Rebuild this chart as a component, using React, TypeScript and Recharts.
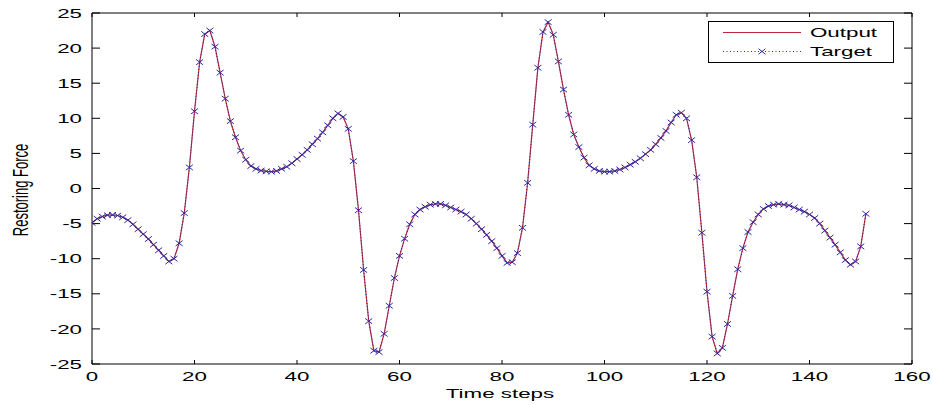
import React from 'react';
import { LineChart, Line, XAxis, YAxis, Legend } from 'recharts';

// Restoring force per time step (t = 0 .. 151)
const targetForce = [
  -4.9, -4.3, -4.0, -3.8, -3.75, -3.85, -4.1, -4.5, -5.1, -5.8,
  -6.5, -7.2, -8.0, -8.8, -9.6, -10.4, -10.0, -7.8, -3.5, 3.0,
  11.0, 18.0, 22.0, 22.5, 20.2, 16.5, 12.8, 9.6, 7.3, 5.4,
  4.1, 3.2, 2.8, 2.55, 2.45, 2.4, 2.5, 2.8, 3.1, 3.6,
  4.2, 4.8, 5.5, 6.3, 7.1, 8.0, 9.0, 10.0, 10.7, 10.2,
  8.5, 3.9, -3.1, -11.6, -18.9, -23.1, -23.3, -20.7, -16.7, -12.75,
  -9.6, -7.15, -5.1, -3.7, -3.0, -2.6, -2.3, -2.2, -2.2, -2.4,
  -2.7, -3.0, -3.3, -3.7, -4.3, -5.0, -5.8, -6.6, -7.5, -8.5,
  -9.6, -10.6, -10.5, -9.2, -5.6, 0.8, 9.1, 17.2, 22.3, 23.7,
  21.9, 18.1, 14.1, 10.5, 7.7, 5.9, 4.4, 3.3, 2.8, 2.5,
  2.4, 2.4, 2.5, 2.7, 3.0, 3.4, 3.8, 4.3, 4.9, 5.5,
  6.3, 7.2, 8.2, 9.4, 10.5, 10.8, 10.0, 6.9, 1.6, -6.3,
  -14.7, -21.1, -23.5, -22.7, -19.3, -15.3, -11.5, -8.5, -6.2, -4.8,
  -3.7, -2.9, -2.5, -2.3, -2.2, -2.3, -2.4, -2.7, -3.0, -3.3,
  -3.7, -4.2, -5.0, -6.0, -7.0, -8.0, -9.1, -10.2, -10.85, -10.4,
  -8.25, -3.6,
];

// Network output per time step (tracks the target closely)
const outputForce = [
  -4.9, -4.3, -4.0, -3.8, -3.75, -3.85, -4.1, -4.5, -5.1, -5.8,
  -6.5, -7.2, -8.0, -8.8, -9.6, -10.4, -10.0, -7.8, -3.5, 3.0,
  11.0, 18.0, 22.0, 22.5, 20.2, 16.5, 12.8, 9.6, 7.3, 5.4,
  4.1, 3.2, 2.8, 2.55, 2.45, 2.4, 2.5, 2.8, 3.1, 3.6,
  4.2, 4.8, 5.5, 6.3, 7.1, 8.0, 9.0, 10.0, 10.7, 10.2,
  8.5, 3.9, -3.1, -11.6, -18.9, -23.1, -23.3, -20.7, -16.7, -12.75,
  -9.6, -7.15, -5.1, -3.7, -3.0, -2.6, -2.3, -2.2, -2.2, -2.4,
  -2.7, -3.0, -3.3, -3.7, -4.3, -5.0, -5.8, -6.6, -7.5, -8.5,
  -9.6, -10.6, -10.5, -9.2, -5.6, 0.8, 9.1, 17.2, 22.3, 23.7,
  21.9, 18.1, 14.1, 10.5, 7.7, 5.9, 4.4, 3.3, 2.8, 2.5,
  2.4, 2.4, 2.5, 2.7, 3.0, 3.4, 3.8, 4.3, 4.9, 5.5,
  6.3, 7.2, 8.2, 9.4, 10.5, 10.8, 10.0, 6.9, 1.6, -6.3,
  -14.7, -21.1, -23.5, -22.7, -19.3, -15.3, -11.5, -8.5, -6.2, -4.8,
  -3.7, -2.9, -2.5, -2.3, -2.2, -2.3, -2.4, -2.7, -3.0, -3.3,
  -3.7, -4.2, -5.0, -6.0, -7.0, -8.0, -9.1, -10.2, -10.85, -10.4,
  -8.25, -3.6,
];

const xTicks = [0, 20, 40, 60, 80, 100, 120, 140, 160];
const yTicks = [-25, -20, -15, -10, -5, 0, 5, 10, 15, 20, 25];
const seriesNames = { output: 'Output', target: 'Target' };
const xTitle = 'Time steps';
const yTitle = 'Restoring Force';

const data = targetForce.map((v, i) => ({ t: i, target: v, output: outputForce[i] }));

const FONT = '"Liberation Sans", Arial, Helvetica, sans-serif';
const STRETCH = 1.72;
const RED = '#c0283a';
const BLUE = '#2e2aa0';

const BottomTickLabel = (props: any) => {
  const { x, y, payload } = props;
  return (
    <text
      transform={`translate(${x},${y + 21}) scale(${STRETCH},1)`}
      textAnchor="middle"
      fontSize={13}
      fontFamily={FONT}
      fill="#000"
    >
      {payload.value}
    </text>
  );
};

const LeftTickLabel = (props: any) => {
  const { x, y, payload } = props;
  return (
    <text
      transform={`translate(${x - 18},${y + 4.6}) scale(${STRETCH},1)`}
      textAnchor="end"
      fontSize={13}
      fontFamily={FONT}
      fill="#000"
    >
      {payload.value}
    </text>
  );
};

const NoLabel = () => <g />;

const XAxisTitle = (props: any) => {
  const { viewBox } = props;
  const cx = viewBox.x + viewBox.width / 2 - 2;
  return (
    <text
      transform={`translate(${cx},${viewBox.y + 33.5}) scale(${STRETCH},1)`}
      textAnchor="middle"
      fontSize={13}
      fontFamily={FONT}
      fill="#000"
    >
      {xTitle}
    </text>
  );
};

const YAxisTitle = (props: any) => {
  const { viewBox } = props;
  const cy = viewBox.y + viewBox.height / 2 + 1.5;
  return (
    <text
      transform={`translate(28,${cy}) scale(${STRETCH},1) rotate(-90)`}
      textAnchor="middle"
      fontSize={13}
      fontFamily={FONT}
      fill="#000"
    >
      {yTitle}
    </text>
  );
};

const crossPath = (cx: number, cy: number, hw: number, hh: number) =>
  `M${cx - hw},${cy - hh}L${cx + hw},${cy + hh}M${cx - hw},${cy + hh}L${cx + hw},${cy - hh}`;

const CrossDot = (props: any) => {
  const { cx, cy, index } = props;
  if (cx == null || cy == null) return <g key={`x-${index}`} />;
  return (
    <path
      key={`x-${index}`}
      d={crossPath(cx, cy, 3.5, 2.7)}
      stroke={BLUE}
      strokeWidth={1}
      fill="none"
    />
  );
};

const renderLegend = (props: any) => {
  const { payload = [] } = props;
  return (
    <svg width={186} height={42} style={{ display: 'block', overflow: 'visible' }}>
      <rect x={0.5} y={0.5} width={185} height={41} fill="#fff" stroke="#000" strokeWidth={1} />
      {payload.map((entry: any, i: number) => {
        const ly = i === 0 ? 11.5 : 30.5;
        const isTarget = entry.dataKey === 'target';
        return (
          <g key={`leg-${i}`}>
            <line
              x1={15}
              x2={93}
              y1={ly}
              y2={ly}
              stroke={entry.color}
              strokeWidth={1}
              strokeDasharray={isTarget ? '1 2.5' : undefined}
            />
            {isTarget && (
              <path d={crossPath(54, ly, 3.5, 2.7)} stroke={entry.color} strokeWidth={1} fill="none" />
            )}
            <text
              transform={`translate(102,${ly + 4.6}) scale(${STRETCH},1)`}
              fontSize={13}
              fontFamily={FONT}
              fill="#000"
            >
              {entry.value}
            </text>
          </g>
        );
      })}
    </svg>
  );
};

export default function App() {
  return (
    <div style={{ position: 'absolute', left: 0, top: 0, width: 933, height: 405, background: '#fff' }}>
      <LineChart width={933} height={405} data={data} margin={{ top: 0, right: 0, bottom: 0, left: 0 }}>
        <XAxis
          xAxisId="bottom"
          dataKey="t"
          type="number"
          domain={[0, 160]}
          ticks={xTicks}
          interval={0}
          height={41}
          tickSize={-4}
          tickMargin={0}
          axisLine={{ stroke: '#000', strokeWidth: 1 }}
          tickLine={{ stroke: '#000', strokeWidth: 1 }}
          tick={<BottomTickLabel />}
          label={<XAxisTitle />}
          allowDataOverflow
        />
        <XAxis
          xAxisId="top"
          orientation="top"
          dataKey="t"
          type="number"
          domain={[0, 160]}
          ticks={xTicks}
          interval={0}
          height={13}
          tickSize={-4}
          axisLine={{ stroke: '#000', strokeWidth: 1 }}
          tickLine={{ stroke: '#000', strokeWidth: 1 }}
          tick={NoLabel}
          allowDataOverflow
        />
        <YAxis
          yAxisId="left"
          type="number"
          domain={[-25, 25]}
          ticks={yTicks}
          interval={0}
          width={92}
          tickSize={-8}
          tickMargin={0}
          axisLine={{ stroke: '#000', strokeWidth: 1 }}
          tickLine={{ stroke: '#000', strokeWidth: 1 }}
          tick={<LeftTickLabel />}
          label={<YAxisTitle />}
          allowDataOverflow
        />
        <YAxis
          yAxisId="right"
          orientation="right"
          type="number"
          domain={[-25, 25]}
          ticks={yTicks}
          interval={0}
          width={21}
          tickSize={-8}
          axisLine={{ stroke: '#000', strokeWidth: 1 }}
          tickLine={{ stroke: '#000', strokeWidth: 1 }}
          tick={NoLabel}
          allowDataOverflow
        />
        <Legend
          content={renderLegend}
          layout="vertical"
          align="center"
          verticalAlign="middle"
          wrapperStyle={{ left: 708, top: 21, width: 186, height: 42 }}
        />
        <Line
          xAxisId="bottom"
          yAxisId="left"
          dataKey="output"
          name={seriesNames.output}
          type="linear"
          stroke={RED}
          strokeWidth={1.2}
          dot={false}
          activeDot={false}
          isAnimationActive={false}
        />
        <Line
          xAxisId="bottom"
          yAxisId="left"
          dataKey="target"
          name={seriesNames.target}
          type="linear"
          stroke={BLUE}
          strokeWidth={1}
          strokeDasharray="1 2"
          dot={CrossDot}
          activeDot={false}
          isAnimationActive={false}
        />
      </LineChart>
    </div>
  );
}
